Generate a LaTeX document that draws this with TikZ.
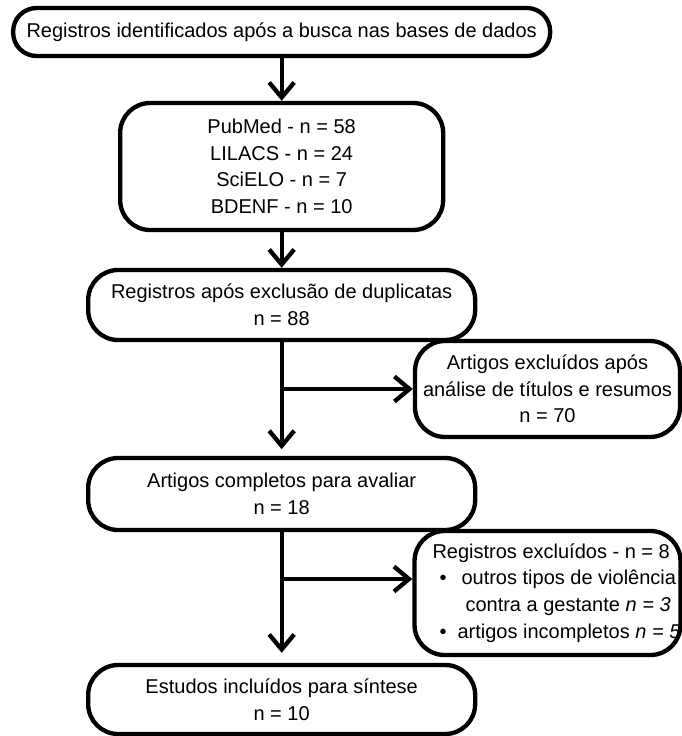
\documentclass[tikz,border=0pt]{standalone}
\usepackage{fontspec}
\setmainfont{Liberation Sans}
\usepackage{tikz}
\usetikzlibrary{arrows.meta}

\begin{document}
\begin{tikzpicture}[
	box/.style={draw, black, line width=0.13cm, rounded corners=0.9cm, inner sep=0, align=center, font=\fontsize{17.07}{22.76}\selectfont},
	flow/.style={black, line width=0.13cm, -{Straight Barb[length=0.45cm, width=0.75cm]}}
	]
	%\draw [help lines, step=0.5, gray] (0,0) grid (20.43, -22.08);
	\useasboundingbox (0,0) rectangle (20.43,-22.08);

	\node (Reg) [box, rounded corners=0.7cm, minimum width=16.11cm, minimum height=1.44cm] at (8.45,-0.96) {Registros identificados após a busca nas bases de dados};

	\node (Pub) [box, minimum width=9.69cm, minimum height=3.81cm, below of=Reg, shift={(0,-3.035)}] {PubMed - n = 58\\LILACS - n = 24\\SciELO - n = 7\\BDENF - n = 10};

	\node (Dup) [box, minimum width=11.61cm, minimum height=2.1cm, below of=Pub, shift={(0,-3.155)}] {Registros após exclusão de duplicatas\\n = 88};

	\node (Comp) [box, minimum width=11.61cm, minimum height=2.16cm, below of=Dup, shift={(0,-4.67)}] {Artigos completos para avaliar\\n = 18};

	\node (Sint) [box, minimum width=11.61cm, minimum height=2.07cm, below of=Comp, shift={(0,-5.165)}] {Estudos incluídos para síntese\\n = 10};

	%Excluidos

	\node (Tit) [box, minimum width=7.95cm, minimum height=2.88cm, right of=Dup, shift={(6.975,-2.52)}] {Artigos excluídos após\\análise de títulos e resumos\\n = 70};

	\node (Exc) [box, align=left, minimum width=7.95cm, minimum height=3.72cm, right of=Comp, shift={(6.975,-2.97)}] {\hspace*{0.54cm}Registros excluídos - n = 8\\
		\hspace*{0.75cm}\textbullet\hspace{0.45cm}outros tipos de violência\\
		\hspace*{1.53cm}contra a gestante \textit{n = 3}\\
		\hspace*{0.75cm}\textbullet\hspace{0.33cm}artigos incompletos \textit{n = 5}};

	\coordinate (ExcIn) at ([yshift=0.42cm]Exc.west);

	%Setas

	\draw [flow] (Reg) -- (Pub);
	\draw [flow] (Pub) -- (Dup);
	\draw [flow, shorten >=0.2cm] (Dup) -- (Comp);
	\draw [flow, shorten >=0.3cm] (Comp) -- (Sint);

	\draw [flow] (Dup.south |- Tit.west) -- (Tit.west);
	\draw [flow] (Comp.south |- ExcIn) -- (ExcIn);

\end{tikzpicture}
\end{document}
